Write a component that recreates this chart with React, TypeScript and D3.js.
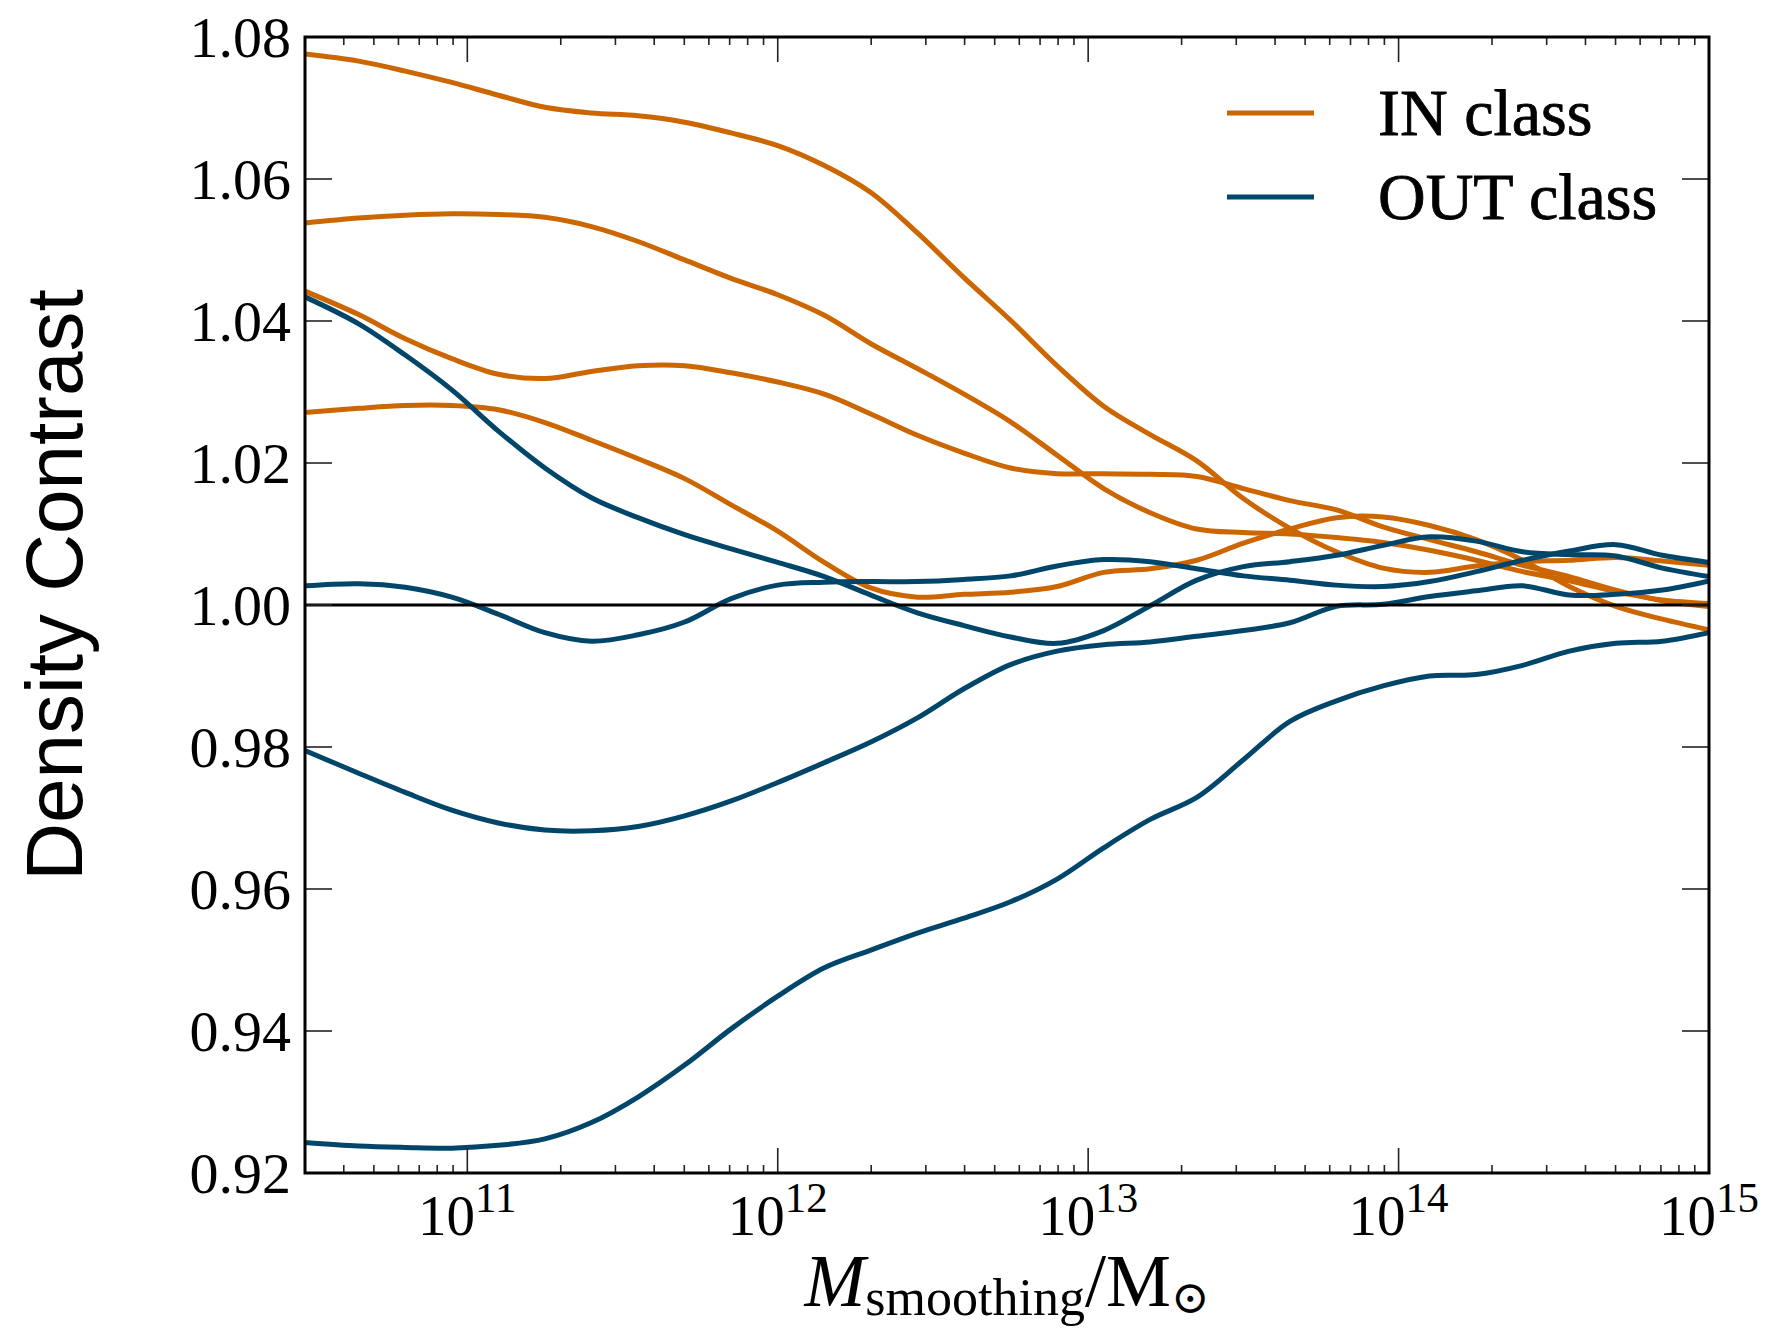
import React from 'react';
import * as d3 from 'd3';

// log10 of smoothing mass (x positions of samples)
const LOG_MASS = [10.477, 10.65, 10.8, 10.95, 11.1, 11.25, 11.4, 11.55, 11.7, 11.85, 12.0, 12.15, 12.3, 12.45, 12.6, 12.75, 12.9, 13.05, 13.2, 13.35, 13.5, 13.65, 13.8, 13.95, 14.1, 14.25, 14.4, 14.55, 14.7, 14.85, 15.0];

// IN class curves
const IN_1 = [1.0776, 1.0766, 1.0752, 1.0736, 1.0718, 1.0701, 1.0693, 1.0689, 1.0680, 1.0665, 1.0647, 1.0619, 1.0581, 1.0524, 1.0461, 1.0401, 1.0337, 1.0280, 1.0240, 1.0203, 1.0150, 1.0108, 1.0075, 1.0052, 1.0046, 1.0055, 1.0061, 1.0063, 1.0067, 1.0062, 1.0056];
const IN_2 = [1.0538, 1.0545, 1.0549, 1.0551, 1.0550, 1.0546, 1.0533, 1.0512, 1.0486, 1.0460, 1.0437, 1.0408, 1.0368, 1.0333, 1.0297, 1.0258, 1.0211, 1.0164, 1.0130, 1.0107, 1.0102, 1.0100, 1.0095, 1.0088, 1.0077, 1.0063, 1.0047, 1.0034, 1.0019, 1.0007, 1.0002];
const IN_3 = [1.0442, 1.0409, 1.0375, 1.0347, 1.0325, 1.0319, 1.0329, 1.0337, 1.0337, 1.0327, 1.0314, 1.0297, 1.0269, 1.0239, 1.0214, 1.0193, 1.0185, 1.0185, 1.0184, 1.0181, 1.0164, 1.0147, 1.0134, 1.0110, 1.0092, 1.0075, 1.0056, 1.0040, 1.0021, 1.0006, 0.9998];
const IN_4 = [1.0271, 1.0277, 1.0281, 1.0281, 1.0275, 1.0257, 1.0232, 1.0206, 1.0178, 1.0141, 1.0104, 1.0060, 1.0024, 1.0011, 1.0015, 1.0018, 1.0026, 1.0046, 1.0051, 1.0063, 1.0087, 1.0107, 1.0123, 1.0124, 1.0112, 1.0092, 1.0063, 1.0026, 0.9998, 0.9980, 0.9965];

// OUT class curves
const OUT_1 = [1.0434, 1.0396, 1.0352, 1.0303, 1.0245, 1.0193, 1.0151, 1.0123, 1.0099, 1.0079, 1.0060, 1.0040, 1.0014, 0.9989, 0.9971, 0.9955, 0.9946, 0.9964, 0.9999, 1.0035, 1.0054, 1.0061, 1.0070, 1.0084, 1.0096, 1.0090, 1.0075, 1.0071, 1.0069, 1.0052, 1.0040];
const OUT_2 = [1.0027, 1.0030, 1.0025, 1.0011, 0.9987, 0.9961, 0.9949, 0.9958, 0.9976, 1.0009, 1.0028, 1.0032, 1.0033, 1.0033, 1.0036, 1.0041, 1.0055, 1.0064, 1.0061, 1.0051, 1.0041, 1.0035, 1.0028, 1.0026, 1.0033, 1.0047, 1.0063, 1.0076, 1.0085, 1.0070, 1.0060];
const OUT_3 = [0.9795, 0.9763, 0.9736, 0.9711, 0.9693, 0.9683, 0.9682, 0.9688, 0.9703, 0.9724, 0.9750, 0.9778, 0.9807, 0.9841, 0.9882, 0.9916, 0.9935, 0.9944, 0.9948, 0.9956, 0.9964, 0.9975, 0.9998, 1.0001, 1.0012, 1.0020, 1.0027, 1.0014, 1.0015, 1.0021, 1.0034];
const OUT_4 = [0.9243, 0.9238, 0.9236, 0.9235, 0.9239, 0.9248, 0.9271, 0.9307, 0.9352, 0.9403, 0.9449, 0.9489, 0.9514, 0.9538, 0.9559, 0.9582, 0.9614, 0.9658, 0.9698, 0.9729, 0.9782, 0.9836, 0.9865, 0.9886, 0.9900, 0.9902, 0.9915, 0.9935, 0.9946, 0.9949, 0.9961];

const IN_SERIES = [IN_1, IN_2, IN_3, IN_4];
const OUT_SERIES = [OUT_1, OUT_2, OUT_3, OUT_4];

const Y_TICKS = [0.92, 0.94, 0.96, 0.98, 1.0, 1.02, 1.04, 1.06, 1.08];
const X_MAJOR_EXP = [11, 12, 13, 14, 15];
const X_DOMAIN = [3e10, 1e15];
const REFERENCE_LEVEL = 1.0;

const LEGEND_LABELS = ['IN class', 'OUT class'];
const COLOR_IN = '#CC6600';
const COLOR_OUT = '#00466A';

export default function App() {
  const W = 1768;
  const H = 1334;
  const left = 305, right = 1709, top = 37, bottom = 1173;

  const x = d3.scaleLog().domain(X_DOMAIN).range([left, right]);
  const y = d3.scaleLinear().domain([0.92, 1.08]).range([bottom, top]);

  const line = d3
    .line<[number, number]>()
    .x((d) => x(Math.pow(10, d[0])))
    .y((d) => y(d[1]))
    .curve(d3.curveCatmullRom.alpha(0.5));

  const toPts = (vals: number[]) => LOG_MASS.map((m, i) => [m, vals[i]] as [number, number]);

  const minor: number[] = [];
  for (let k = 10; k <= 14; k++) {
    for (let m = 2; m <= 9; m++) {
      const v = m * Math.pow(10, k);
      if (v > X_DOMAIN[0] && v < X_DOMAIN[1]) minor.push(v);
    }
  }

  const serif = '"Liberation Serif", "DejaVu Serif", serif';
  const sans = '"Liberation Sans", Arial, sans-serif';
  const tickColor = '#222';

  return (
    <div style={{ position: 'absolute', left: 0, top: 0 }}>
      <svg width={W} height={H} viewBox={`0 0 ${W} ${H}`} style={{ display: 'block', background: '#fff' }}>
        <defs>
          <clipPath id="plotClip">
            <rect x={left} y={top} width={right - left} height={bottom - top} />
          </clipPath>
        </defs>
        <rect x={0} y={0} width={W} height={H} fill="#fff" />

        <g clipPath="url(#plotClip)">
          {IN_SERIES.map((s, i) => (
            <path key={'in' + i} d={line(toPts(s)) || ''} fill="none" stroke={COLOR_IN} strokeWidth={5} strokeLinejoin="round" />
          ))}
          {OUT_SERIES.map((s, i) => (
            <path key={'out' + i} d={line(toPts(s)) || ''} fill="none" stroke={COLOR_OUT} strokeWidth={5} strokeLinejoin="round" />
          ))}
          <line x1={left} x2={right} y1={y(REFERENCE_LEVEL)} y2={y(REFERENCE_LEVEL)} stroke="#000" strokeWidth={3} />
        </g>

        {/* y ticks, left and right */}
        {Y_TICKS.map((t) => (
          <g key={'yt' + t}>
            <line x1={left} x2={left + 27} y1={y(t)} y2={y(t)} stroke={tickColor} strokeWidth={1.6} />
            <line x1={right - 27} x2={right} y1={y(t)} y2={y(t)} stroke={tickColor} strokeWidth={1.6} />
            <text x={left - 14} y={y(t)} dy="0.35em" textAnchor="end" fontFamily={serif} fontSize={58} fill="#000">
              {t.toFixed(2)}
            </text>
          </g>
        ))}

        {/* x minor ticks, bottom and top */}
        {minor.map((v) => (
          <g key={'xm' + v}>
            <line x1={x(v)} x2={x(v)} y1={bottom} y2={bottom - 8} stroke={tickColor} strokeWidth={1.6} />
            <line x1={x(v)} x2={x(v)} y1={top} y2={top + 8} stroke={tickColor} strokeWidth={1.6} />
          </g>
        ))}

        {/* x major ticks */}
        {X_MAJOR_EXP.map((e) => {
          const px = x(Math.pow(10, e));
          return (
            <g key={'xM' + e}>
              <line x1={px} x2={px} y1={bottom} y2={bottom - 25} stroke={tickColor} strokeWidth={1.6} />
              <line x1={px} x2={px} y1={top} y2={top + 25} stroke={tickColor} strokeWidth={1.6} />
              <text x={px} y={1235} textAnchor="middle" fontFamily={serif} fontSize={57} fill="#000">
                10
                <tspan dy={-23} fontSize={43}>{String(e)}</tspan>
              </text>
            </g>
          );
        })}

        {/* frame */}
        <rect x={left} y={top} width={right - left} height={bottom - top} fill="none" stroke="#000" strokeWidth={3} />

        {/* x label */}
        <text x={(left + right) / 2} y={1306} textAnchor="middle" fontFamily={serif} fill="#000" fontSize={73}>
          <tspan fontStyle="italic">M</tspan>
          <tspan fontSize={52} dy={9}>smoothing</tspan>
          <tspan dy={-9} fontSize={76}>/</tspan>
          <tspan>M</tspan>
          <tspan fontSize={46} dy={7} fontFamily='"DejaVu Serif", serif'>⊙</tspan>
        </text>

        {/* y label */}
        <text
          transform={`translate(82, 585) rotate(-90)`}
          textAnchor="middle"
          fontFamily={sans}
          fontSize={80}
          fill="#000"
        >
          Density Contrast
        </text>

        {/* legend */}
        {LEGEND_LABELS.map((lab, i) => {
          const ly = 113 + i * 84;
          return (
            <g key={lab}>
              <line x1={1227} x2={1314} y1={ly} y2={ly} stroke={i === 0 ? COLOR_IN : COLOR_OUT} strokeWidth={5} />
              <text x={1378} y={ly + 22} fontFamily={serif} fontSize={66} fill="#000" stroke="#000" strokeWidth={0.8}>
                {lab}
              </text>
            </g>
          );
        })}
      </svg>
    </div>
  );
}
